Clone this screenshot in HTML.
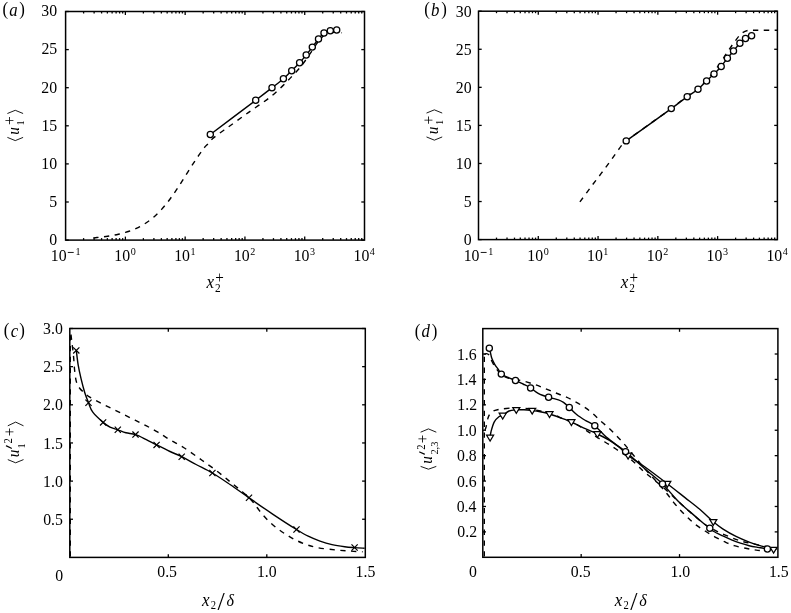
<!DOCTYPE html>
<html><head><meta charset="utf-8"><style>
html,body{margin:0;padding:0;background:#fff;overflow:hidden;}
svg{display:block;font-family:"Liberation Serif",serif;}
svg text{stroke:none;fill:#000;}
svg{will-change:transform;}
</style></head><body>
<svg width="791" height="613" viewBox="0 0 791 613" stroke="#000" stroke-linecap="butt">
<line x1="83.60" y1="240.10" x2="83.60" y2="238.10" stroke-width="1.3" />
<line x1="83.60" y1="11.50" x2="83.60" y2="13.50" stroke-width="1.3" />
<line x1="94.12" y1="240.10" x2="94.12" y2="238.10" stroke-width="1.3" />
<line x1="94.12" y1="11.50" x2="94.12" y2="13.50" stroke-width="1.3" />
<line x1="101.59" y1="240.10" x2="101.59" y2="238.10" stroke-width="1.3" />
<line x1="101.59" y1="11.50" x2="101.59" y2="13.50" stroke-width="1.3" />
<line x1="107.38" y1="240.10" x2="107.38" y2="238.10" stroke-width="1.3" />
<line x1="107.38" y1="11.50" x2="107.38" y2="13.50" stroke-width="1.3" />
<line x1="112.12" y1="240.10" x2="112.12" y2="238.10" stroke-width="1.3" />
<line x1="112.12" y1="11.50" x2="112.12" y2="13.50" stroke-width="1.3" />
<line x1="116.12" y1="240.10" x2="116.12" y2="238.10" stroke-width="1.3" />
<line x1="116.12" y1="11.50" x2="116.12" y2="13.50" stroke-width="1.3" />
<line x1="119.59" y1="240.10" x2="119.59" y2="238.10" stroke-width="1.3" />
<line x1="119.59" y1="11.50" x2="119.59" y2="13.50" stroke-width="1.3" />
<line x1="122.64" y1="240.10" x2="122.64" y2="238.10" stroke-width="1.3" />
<line x1="122.64" y1="11.50" x2="122.64" y2="13.50" stroke-width="1.3" />
<line x1="125.38" y1="240.10" x2="125.38" y2="236.60" stroke-width="1.3" />
<line x1="125.38" y1="11.50" x2="125.38" y2="15.00" stroke-width="1.3" />
<line x1="143.38" y1="240.10" x2="143.38" y2="238.10" stroke-width="1.3" />
<line x1="143.38" y1="11.50" x2="143.38" y2="13.50" stroke-width="1.3" />
<line x1="153.90" y1="240.10" x2="153.90" y2="238.10" stroke-width="1.3" />
<line x1="153.90" y1="11.50" x2="153.90" y2="13.50" stroke-width="1.3" />
<line x1="161.37" y1="240.10" x2="161.37" y2="238.10" stroke-width="1.3" />
<line x1="161.37" y1="11.50" x2="161.37" y2="13.50" stroke-width="1.3" />
<line x1="167.16" y1="240.10" x2="167.16" y2="238.10" stroke-width="1.3" />
<line x1="167.16" y1="11.50" x2="167.16" y2="13.50" stroke-width="1.3" />
<line x1="171.90" y1="240.10" x2="171.90" y2="238.10" stroke-width="1.3" />
<line x1="171.90" y1="11.50" x2="171.90" y2="13.50" stroke-width="1.3" />
<line x1="175.90" y1="240.10" x2="175.90" y2="238.10" stroke-width="1.3" />
<line x1="175.90" y1="11.50" x2="175.90" y2="13.50" stroke-width="1.3" />
<line x1="179.37" y1="240.10" x2="179.37" y2="238.10" stroke-width="1.3" />
<line x1="179.37" y1="11.50" x2="179.37" y2="13.50" stroke-width="1.3" />
<line x1="182.42" y1="240.10" x2="182.42" y2="238.10" stroke-width="1.3" />
<line x1="182.42" y1="11.50" x2="182.42" y2="13.50" stroke-width="1.3" />
<line x1="185.16" y1="240.10" x2="185.16" y2="236.60" stroke-width="1.3" />
<line x1="185.16" y1="11.50" x2="185.16" y2="15.00" stroke-width="1.3" />
<line x1="203.16" y1="240.10" x2="203.16" y2="238.10" stroke-width="1.3" />
<line x1="203.16" y1="11.50" x2="203.16" y2="13.50" stroke-width="1.3" />
<line x1="213.68" y1="240.10" x2="213.68" y2="238.10" stroke-width="1.3" />
<line x1="213.68" y1="11.50" x2="213.68" y2="13.50" stroke-width="1.3" />
<line x1="221.15" y1="240.10" x2="221.15" y2="238.10" stroke-width="1.3" />
<line x1="221.15" y1="11.50" x2="221.15" y2="13.50" stroke-width="1.3" />
<line x1="226.94" y1="240.10" x2="226.94" y2="238.10" stroke-width="1.3" />
<line x1="226.94" y1="11.50" x2="226.94" y2="13.50" stroke-width="1.3" />
<line x1="231.68" y1="240.10" x2="231.68" y2="238.10" stroke-width="1.3" />
<line x1="231.68" y1="11.50" x2="231.68" y2="13.50" stroke-width="1.3" />
<line x1="235.68" y1="240.10" x2="235.68" y2="238.10" stroke-width="1.3" />
<line x1="235.68" y1="11.50" x2="235.68" y2="13.50" stroke-width="1.3" />
<line x1="239.15" y1="240.10" x2="239.15" y2="238.10" stroke-width="1.3" />
<line x1="239.15" y1="11.50" x2="239.15" y2="13.50" stroke-width="1.3" />
<line x1="242.20" y1="240.10" x2="242.20" y2="238.10" stroke-width="1.3" />
<line x1="242.20" y1="11.50" x2="242.20" y2="13.50" stroke-width="1.3" />
<line x1="244.94" y1="240.10" x2="244.94" y2="236.60" stroke-width="1.3" />
<line x1="244.94" y1="11.50" x2="244.94" y2="15.00" stroke-width="1.3" />
<line x1="262.94" y1="240.10" x2="262.94" y2="238.10" stroke-width="1.3" />
<line x1="262.94" y1="11.50" x2="262.94" y2="13.50" stroke-width="1.3" />
<line x1="273.46" y1="240.10" x2="273.46" y2="238.10" stroke-width="1.3" />
<line x1="273.46" y1="11.50" x2="273.46" y2="13.50" stroke-width="1.3" />
<line x1="280.93" y1="240.10" x2="280.93" y2="238.10" stroke-width="1.3" />
<line x1="280.93" y1="11.50" x2="280.93" y2="13.50" stroke-width="1.3" />
<line x1="286.72" y1="240.10" x2="286.72" y2="238.10" stroke-width="1.3" />
<line x1="286.72" y1="11.50" x2="286.72" y2="13.50" stroke-width="1.3" />
<line x1="291.46" y1="240.10" x2="291.46" y2="238.10" stroke-width="1.3" />
<line x1="291.46" y1="11.50" x2="291.46" y2="13.50" stroke-width="1.3" />
<line x1="295.46" y1="240.10" x2="295.46" y2="238.10" stroke-width="1.3" />
<line x1="295.46" y1="11.50" x2="295.46" y2="13.50" stroke-width="1.3" />
<line x1="298.93" y1="240.10" x2="298.93" y2="238.10" stroke-width="1.3" />
<line x1="298.93" y1="11.50" x2="298.93" y2="13.50" stroke-width="1.3" />
<line x1="301.98" y1="240.10" x2="301.98" y2="238.10" stroke-width="1.3" />
<line x1="301.98" y1="11.50" x2="301.98" y2="13.50" stroke-width="1.3" />
<line x1="304.72" y1="240.10" x2="304.72" y2="236.60" stroke-width="1.3" />
<line x1="304.72" y1="11.50" x2="304.72" y2="15.00" stroke-width="1.3" />
<line x1="322.72" y1="240.10" x2="322.72" y2="238.10" stroke-width="1.3" />
<line x1="322.72" y1="11.50" x2="322.72" y2="13.50" stroke-width="1.3" />
<line x1="333.24" y1="240.10" x2="333.24" y2="238.10" stroke-width="1.3" />
<line x1="333.24" y1="11.50" x2="333.24" y2="13.50" stroke-width="1.3" />
<line x1="340.71" y1="240.10" x2="340.71" y2="238.10" stroke-width="1.3" />
<line x1="340.71" y1="11.50" x2="340.71" y2="13.50" stroke-width="1.3" />
<line x1="346.50" y1="240.10" x2="346.50" y2="238.10" stroke-width="1.3" />
<line x1="346.50" y1="11.50" x2="346.50" y2="13.50" stroke-width="1.3" />
<line x1="351.24" y1="240.10" x2="351.24" y2="238.10" stroke-width="1.3" />
<line x1="351.24" y1="11.50" x2="351.24" y2="13.50" stroke-width="1.3" />
<line x1="355.24" y1="240.10" x2="355.24" y2="238.10" stroke-width="1.3" />
<line x1="355.24" y1="11.50" x2="355.24" y2="13.50" stroke-width="1.3" />
<line x1="358.71" y1="240.10" x2="358.71" y2="238.10" stroke-width="1.3" />
<line x1="358.71" y1="11.50" x2="358.71" y2="13.50" stroke-width="1.3" />
<line x1="361.76" y1="240.10" x2="361.76" y2="238.10" stroke-width="1.3" />
<line x1="361.76" y1="11.50" x2="361.76" y2="13.50" stroke-width="1.3" />
<line x1="65.60" y1="240.10" x2="68.80" y2="240.10" stroke-width="1.3" />
<line x1="364.50" y1="240.10" x2="361.30" y2="240.10" stroke-width="1.3" />
<line x1="65.60" y1="202.00" x2="68.80" y2="202.00" stroke-width="1.3" />
<line x1="364.50" y1="202.00" x2="361.30" y2="202.00" stroke-width="1.3" />
<line x1="65.60" y1="163.90" x2="68.80" y2="163.90" stroke-width="1.3" />
<line x1="364.50" y1="163.90" x2="361.30" y2="163.90" stroke-width="1.3" />
<line x1="65.60" y1="125.80" x2="68.80" y2="125.80" stroke-width="1.3" />
<line x1="364.50" y1="125.80" x2="361.30" y2="125.80" stroke-width="1.3" />
<line x1="65.60" y1="87.70" x2="68.80" y2="87.70" stroke-width="1.3" />
<line x1="364.50" y1="87.70" x2="361.30" y2="87.70" stroke-width="1.3" />
<line x1="65.60" y1="49.60" x2="68.80" y2="49.60" stroke-width="1.3" />
<line x1="364.50" y1="49.60" x2="361.30" y2="49.60" stroke-width="1.3" />
<line x1="65.60" y1="11.50" x2="68.80" y2="11.50" stroke-width="1.3" />
<line x1="364.50" y1="11.50" x2="361.30" y2="11.50" stroke-width="1.3" />
<rect x="65.60" y="11.50" width="298.90" height="228.60" fill="none" stroke-width="1.5"/>
<text transform="translate(49.28,245.38) scale(0.92,1)" font-size="17.2">0</text>
<text transform="translate(49.32,207.05) scale(0.92,1)" font-size="17.2">5</text>
<text transform="translate(41.37,169.03) scale(0.92,1)" font-size="17.2">10</text>
<text transform="translate(41.41,130.79) scale(0.92,1)" font-size="17.2">15</text>
<text transform="translate(41.37,92.63) scale(0.92,1)" font-size="17.2">20</text>
<text transform="translate(41.41,54.26) scale(0.92,1)" font-size="17.2">25</text>
<text transform="translate(41.37,15.63) scale(0.92,1)" font-size="17.2">30</text>
<text transform="translate(50.74,261.03) scale(0.92,1)" font-size="17.2">10</text>
<rect x="67.80" y="251.95" width="5.9" height="0.9" stroke="none" fill="#000"/>
<text transform="translate(75.38,255.13) scale(0.92,1)" font-size="11.0">1</text>
<text transform="translate(114.37,261.03) scale(0.92,1)" font-size="17.2">10</text>
<text transform="translate(130.75,255.00) scale(0.92,1)" font-size="11.0">0</text>
<text transform="translate(174.15,261.03) scale(0.92,1)" font-size="17.2">10</text>
<text transform="translate(190.39,255.03) scale(0.92,1)" font-size="11.0">1</text>
<text transform="translate(233.93,261.03) scale(0.92,1)" font-size="17.2">10</text>
<text transform="translate(250.37,255.04) scale(0.92,1)" font-size="11.0">2</text>
<text transform="translate(293.71,261.03) scale(0.92,1)" font-size="17.2">10</text>
<text transform="translate(310.05,254.99) scale(0.92,1)" font-size="11.0">3</text>
<text transform="translate(353.49,261.03) scale(0.92,1)" font-size="17.2">10</text>
<text transform="translate(369.84,255.02) scale(0.92,1)" font-size="11.0">4</text>
<line x1="496.50" y1="239.60" x2="496.50" y2="237.60" stroke-width="1.3" />
<line x1="496.50" y1="11.20" x2="496.50" y2="13.20" stroke-width="1.3" />
<line x1="507.02" y1="239.60" x2="507.02" y2="237.60" stroke-width="1.3" />
<line x1="507.02" y1="11.20" x2="507.02" y2="13.20" stroke-width="1.3" />
<line x1="514.49" y1="239.60" x2="514.49" y2="237.60" stroke-width="1.3" />
<line x1="514.49" y1="11.20" x2="514.49" y2="13.20" stroke-width="1.3" />
<line x1="520.28" y1="239.60" x2="520.28" y2="237.60" stroke-width="1.3" />
<line x1="520.28" y1="11.20" x2="520.28" y2="13.20" stroke-width="1.3" />
<line x1="525.02" y1="239.60" x2="525.02" y2="237.60" stroke-width="1.3" />
<line x1="525.02" y1="11.20" x2="525.02" y2="13.20" stroke-width="1.3" />
<line x1="529.02" y1="239.60" x2="529.02" y2="237.60" stroke-width="1.3" />
<line x1="529.02" y1="11.20" x2="529.02" y2="13.20" stroke-width="1.3" />
<line x1="532.49" y1="239.60" x2="532.49" y2="237.60" stroke-width="1.3" />
<line x1="532.49" y1="11.20" x2="532.49" y2="13.20" stroke-width="1.3" />
<line x1="535.54" y1="239.60" x2="535.54" y2="237.60" stroke-width="1.3" />
<line x1="535.54" y1="11.20" x2="535.54" y2="13.20" stroke-width="1.3" />
<line x1="538.28" y1="239.60" x2="538.28" y2="236.10" stroke-width="1.3" />
<line x1="538.28" y1="11.20" x2="538.28" y2="14.70" stroke-width="1.3" />
<line x1="556.28" y1="239.60" x2="556.28" y2="237.60" stroke-width="1.3" />
<line x1="556.28" y1="11.20" x2="556.28" y2="13.20" stroke-width="1.3" />
<line x1="566.80" y1="239.60" x2="566.80" y2="237.60" stroke-width="1.3" />
<line x1="566.80" y1="11.20" x2="566.80" y2="13.20" stroke-width="1.3" />
<line x1="574.27" y1="239.60" x2="574.27" y2="237.60" stroke-width="1.3" />
<line x1="574.27" y1="11.20" x2="574.27" y2="13.20" stroke-width="1.3" />
<line x1="580.06" y1="239.60" x2="580.06" y2="237.60" stroke-width="1.3" />
<line x1="580.06" y1="11.20" x2="580.06" y2="13.20" stroke-width="1.3" />
<line x1="584.80" y1="239.60" x2="584.80" y2="237.60" stroke-width="1.3" />
<line x1="584.80" y1="11.20" x2="584.80" y2="13.20" stroke-width="1.3" />
<line x1="588.80" y1="239.60" x2="588.80" y2="237.60" stroke-width="1.3" />
<line x1="588.80" y1="11.20" x2="588.80" y2="13.20" stroke-width="1.3" />
<line x1="592.27" y1="239.60" x2="592.27" y2="237.60" stroke-width="1.3" />
<line x1="592.27" y1="11.20" x2="592.27" y2="13.20" stroke-width="1.3" />
<line x1="595.32" y1="239.60" x2="595.32" y2="237.60" stroke-width="1.3" />
<line x1="595.32" y1="11.20" x2="595.32" y2="13.20" stroke-width="1.3" />
<line x1="598.06" y1="239.60" x2="598.06" y2="236.10" stroke-width="1.3" />
<line x1="598.06" y1="11.20" x2="598.06" y2="14.70" stroke-width="1.3" />
<line x1="616.06" y1="239.60" x2="616.06" y2="237.60" stroke-width="1.3" />
<line x1="616.06" y1="11.20" x2="616.06" y2="13.20" stroke-width="1.3" />
<line x1="626.58" y1="239.60" x2="626.58" y2="237.60" stroke-width="1.3" />
<line x1="626.58" y1="11.20" x2="626.58" y2="13.20" stroke-width="1.3" />
<line x1="634.05" y1="239.60" x2="634.05" y2="237.60" stroke-width="1.3" />
<line x1="634.05" y1="11.20" x2="634.05" y2="13.20" stroke-width="1.3" />
<line x1="639.84" y1="239.60" x2="639.84" y2="237.60" stroke-width="1.3" />
<line x1="639.84" y1="11.20" x2="639.84" y2="13.20" stroke-width="1.3" />
<line x1="644.58" y1="239.60" x2="644.58" y2="237.60" stroke-width="1.3" />
<line x1="644.58" y1="11.20" x2="644.58" y2="13.20" stroke-width="1.3" />
<line x1="648.58" y1="239.60" x2="648.58" y2="237.60" stroke-width="1.3" />
<line x1="648.58" y1="11.20" x2="648.58" y2="13.20" stroke-width="1.3" />
<line x1="652.05" y1="239.60" x2="652.05" y2="237.60" stroke-width="1.3" />
<line x1="652.05" y1="11.20" x2="652.05" y2="13.20" stroke-width="1.3" />
<line x1="655.10" y1="239.60" x2="655.10" y2="237.60" stroke-width="1.3" />
<line x1="655.10" y1="11.20" x2="655.10" y2="13.20" stroke-width="1.3" />
<line x1="657.84" y1="239.60" x2="657.84" y2="236.10" stroke-width="1.3" />
<line x1="657.84" y1="11.20" x2="657.84" y2="14.70" stroke-width="1.3" />
<line x1="675.84" y1="239.60" x2="675.84" y2="237.60" stroke-width="1.3" />
<line x1="675.84" y1="11.20" x2="675.84" y2="13.20" stroke-width="1.3" />
<line x1="686.36" y1="239.60" x2="686.36" y2="237.60" stroke-width="1.3" />
<line x1="686.36" y1="11.20" x2="686.36" y2="13.20" stroke-width="1.3" />
<line x1="693.83" y1="239.60" x2="693.83" y2="237.60" stroke-width="1.3" />
<line x1="693.83" y1="11.20" x2="693.83" y2="13.20" stroke-width="1.3" />
<line x1="699.62" y1="239.60" x2="699.62" y2="237.60" stroke-width="1.3" />
<line x1="699.62" y1="11.20" x2="699.62" y2="13.20" stroke-width="1.3" />
<line x1="704.36" y1="239.60" x2="704.36" y2="237.60" stroke-width="1.3" />
<line x1="704.36" y1="11.20" x2="704.36" y2="13.20" stroke-width="1.3" />
<line x1="708.36" y1="239.60" x2="708.36" y2="237.60" stroke-width="1.3" />
<line x1="708.36" y1="11.20" x2="708.36" y2="13.20" stroke-width="1.3" />
<line x1="711.83" y1="239.60" x2="711.83" y2="237.60" stroke-width="1.3" />
<line x1="711.83" y1="11.20" x2="711.83" y2="13.20" stroke-width="1.3" />
<line x1="714.88" y1="239.60" x2="714.88" y2="237.60" stroke-width="1.3" />
<line x1="714.88" y1="11.20" x2="714.88" y2="13.20" stroke-width="1.3" />
<line x1="717.62" y1="239.60" x2="717.62" y2="236.10" stroke-width="1.3" />
<line x1="717.62" y1="11.20" x2="717.62" y2="14.70" stroke-width="1.3" />
<line x1="735.62" y1="239.60" x2="735.62" y2="237.60" stroke-width="1.3" />
<line x1="735.62" y1="11.20" x2="735.62" y2="13.20" stroke-width="1.3" />
<line x1="746.14" y1="239.60" x2="746.14" y2="237.60" stroke-width="1.3" />
<line x1="746.14" y1="11.20" x2="746.14" y2="13.20" stroke-width="1.3" />
<line x1="753.61" y1="239.60" x2="753.61" y2="237.60" stroke-width="1.3" />
<line x1="753.61" y1="11.20" x2="753.61" y2="13.20" stroke-width="1.3" />
<line x1="759.40" y1="239.60" x2="759.40" y2="237.60" stroke-width="1.3" />
<line x1="759.40" y1="11.20" x2="759.40" y2="13.20" stroke-width="1.3" />
<line x1="764.14" y1="239.60" x2="764.14" y2="237.60" stroke-width="1.3" />
<line x1="764.14" y1="11.20" x2="764.14" y2="13.20" stroke-width="1.3" />
<line x1="768.14" y1="239.60" x2="768.14" y2="237.60" stroke-width="1.3" />
<line x1="768.14" y1="11.20" x2="768.14" y2="13.20" stroke-width="1.3" />
<line x1="771.61" y1="239.60" x2="771.61" y2="237.60" stroke-width="1.3" />
<line x1="771.61" y1="11.20" x2="771.61" y2="13.20" stroke-width="1.3" />
<line x1="774.66" y1="239.60" x2="774.66" y2="237.60" stroke-width="1.3" />
<line x1="774.66" y1="11.20" x2="774.66" y2="13.20" stroke-width="1.3" />
<line x1="478.50" y1="239.60" x2="481.70" y2="239.60" stroke-width="1.3" />
<line x1="777.40" y1="239.60" x2="774.20" y2="239.60" stroke-width="1.3" />
<line x1="478.50" y1="201.53" x2="481.70" y2="201.53" stroke-width="1.3" />
<line x1="777.40" y1="201.53" x2="774.20" y2="201.53" stroke-width="1.3" />
<line x1="478.50" y1="163.47" x2="481.70" y2="163.47" stroke-width="1.3" />
<line x1="777.40" y1="163.47" x2="774.20" y2="163.47" stroke-width="1.3" />
<line x1="478.50" y1="125.40" x2="481.70" y2="125.40" stroke-width="1.3" />
<line x1="777.40" y1="125.40" x2="774.20" y2="125.40" stroke-width="1.3" />
<line x1="478.50" y1="87.33" x2="481.70" y2="87.33" stroke-width="1.3" />
<line x1="777.40" y1="87.33" x2="774.20" y2="87.33" stroke-width="1.3" />
<line x1="478.50" y1="49.27" x2="481.70" y2="49.27" stroke-width="1.3" />
<line x1="777.40" y1="49.27" x2="774.20" y2="49.27" stroke-width="1.3" />
<line x1="478.50" y1="11.20" x2="481.70" y2="11.20" stroke-width="1.3" />
<line x1="777.40" y1="11.20" x2="774.20" y2="11.20" stroke-width="1.3" />
<rect x="478.50" y="11.20" width="298.90" height="228.40" fill="none" stroke-width="1.5"/>
<text transform="translate(463.68,244.93) scale(0.92,1)" font-size="17.2">0</text>
<text transform="translate(463.72,206.78) scale(0.92,1)" font-size="17.2">5</text>
<text transform="translate(455.77,168.80) scale(0.92,1)" font-size="17.2">10</text>
<text transform="translate(455.81,130.69) scale(0.92,1)" font-size="17.2">15</text>
<text transform="translate(455.77,92.67) scale(0.92,1)" font-size="17.2">20</text>
<text transform="translate(455.81,54.58) scale(0.92,1)" font-size="17.2">25</text>
<text transform="translate(455.77,16.53) scale(0.92,1)" font-size="17.2">30</text>
<text transform="translate(463.64,261.03) scale(0.92,1)" font-size="17.2">10</text>
<rect x="480.70" y="251.95" width="5.9" height="0.9" stroke="none" fill="#000"/>
<text transform="translate(488.28,255.13) scale(0.92,1)" font-size="11.0">1</text>
<text transform="translate(527.27,261.03) scale(0.92,1)" font-size="17.2">10</text>
<text transform="translate(543.65,255.00) scale(0.92,1)" font-size="11.0">0</text>
<text transform="translate(587.05,261.03) scale(0.92,1)" font-size="17.2">10</text>
<text transform="translate(603.29,255.03) scale(0.92,1)" font-size="11.0">1</text>
<text transform="translate(646.83,261.03) scale(0.92,1)" font-size="17.2">10</text>
<text transform="translate(663.27,255.04) scale(0.92,1)" font-size="11.0">2</text>
<text transform="translate(706.61,261.03) scale(0.92,1)" font-size="17.2">10</text>
<text transform="translate(722.95,254.99) scale(0.92,1)" font-size="11.0">3</text>
<text transform="translate(766.39,261.03) scale(0.92,1)" font-size="17.2">10</text>
<text transform="translate(782.74,255.02) scale(0.92,1)" font-size="11.0">4</text>
<line x1="168.30" y1="557.40" x2="168.30" y2="554.20" stroke-width="1.3" />
<line x1="168.30" y1="328.50" x2="168.30" y2="331.70" stroke-width="1.3" />
<line x1="266.80" y1="557.40" x2="266.80" y2="554.20" stroke-width="1.3" />
<line x1="266.80" y1="328.50" x2="266.80" y2="331.70" stroke-width="1.3" />
<line x1="69.80" y1="519.25" x2="73.00" y2="519.25" stroke-width="1.3" />
<line x1="365.30" y1="519.25" x2="362.10" y2="519.25" stroke-width="1.3" />
<text transform="translate(43.15,524.84) scale(0.92,1)" font-size="17.2">0.5</text>
<line x1="69.80" y1="481.10" x2="73.00" y2="481.10" stroke-width="1.3" />
<line x1="365.30" y1="481.10" x2="362.10" y2="481.10" stroke-width="1.3" />
<text transform="translate(43.11,486.69) scale(0.92,1)" font-size="17.2">1.0</text>
<line x1="69.80" y1="442.95" x2="73.00" y2="442.95" stroke-width="1.3" />
<line x1="365.30" y1="442.95" x2="362.10" y2="442.95" stroke-width="1.3" />
<text transform="translate(43.15,448.50) scale(0.92,1)" font-size="17.2">1.5</text>
<line x1="69.80" y1="404.80" x2="73.00" y2="404.80" stroke-width="1.3" />
<line x1="365.30" y1="404.80" x2="362.10" y2="404.80" stroke-width="1.3" />
<text transform="translate(43.11,410.39) scale(0.92,1)" font-size="17.2">2.0</text>
<line x1="69.80" y1="366.65" x2="73.00" y2="366.65" stroke-width="1.3" />
<line x1="365.30" y1="366.65" x2="362.10" y2="366.65" stroke-width="1.3" />
<text transform="translate(43.15,372.22) scale(0.92,1)" font-size="17.2">2.5</text>
<line x1="69.80" y1="328.50" x2="73.00" y2="328.50" stroke-width="1.3" />
<line x1="365.30" y1="328.50" x2="362.10" y2="328.50" stroke-width="1.3" />
<text transform="translate(43.11,334.09) scale(0.92,1)" font-size="17.2">3.0</text>
<rect x="69.80" y="328.50" width="295.50" height="228.90" fill="none" stroke-width="1.5"/>
<text transform="translate(157.23,577.39) scale(0.92,1)" font-size="17.2">0.5</text>
<text transform="translate(256.91,577.39) scale(0.92,1)" font-size="17.2">1.0</text>
<text transform="translate(355.53,577.35) scale(0.92,1)" font-size="17.2">1.5</text>
<text transform="translate(55.14,581.33) scale(0.92,1)" font-size="17.2">0</text>
<line x1="581.17" y1="557.30" x2="581.17" y2="554.10" stroke-width="1.3" />
<line x1="581.17" y1="328.60" x2="581.17" y2="331.80" stroke-width="1.3" />
<line x1="679.53" y1="557.30" x2="679.53" y2="554.10" stroke-width="1.3" />
<line x1="679.53" y1="328.60" x2="679.53" y2="331.80" stroke-width="1.3" />
<line x1="482.80" y1="531.89" x2="486.00" y2="531.89" stroke-width="1.3" />
<line x1="777.90" y1="531.89" x2="774.70" y2="531.89" stroke-width="1.3" />
<text transform="translate(457.29,537.48) scale(0.92,1)" font-size="17.2">0.2</text>
<line x1="482.80" y1="506.48" x2="486.00" y2="506.48" stroke-width="1.3" />
<line x1="777.90" y1="506.48" x2="774.70" y2="506.48" stroke-width="1.3" />
<text transform="translate(456.66,512.07) scale(0.92,1)" font-size="17.2">0.4</text>
<line x1="482.80" y1="481.07" x2="486.00" y2="481.07" stroke-width="1.3" />
<line x1="777.90" y1="481.07" x2="774.70" y2="481.07" stroke-width="1.3" />
<text transform="translate(456.89,486.66) scale(0.92,1)" font-size="17.2">0.6</text>
<line x1="482.80" y1="455.66" x2="486.00" y2="455.66" stroke-width="1.3" />
<line x1="777.90" y1="455.66" x2="774.70" y2="455.66" stroke-width="1.3" />
<text transform="translate(457.01,461.25) scale(0.92,1)" font-size="17.2">0.8</text>
<line x1="482.80" y1="430.24" x2="486.00" y2="430.24" stroke-width="1.3" />
<line x1="777.90" y1="430.24" x2="774.70" y2="430.24" stroke-width="1.3" />
<text transform="translate(457.01,435.83) scale(0.92,1)" font-size="17.2">1.0</text>
<line x1="482.80" y1="404.83" x2="486.00" y2="404.83" stroke-width="1.3" />
<line x1="777.90" y1="404.83" x2="774.70" y2="404.83" stroke-width="1.3" />
<text transform="translate(457.29,410.40) scale(0.92,1)" font-size="17.2">1.2</text>
<line x1="482.80" y1="379.42" x2="486.00" y2="379.42" stroke-width="1.3" />
<line x1="777.90" y1="379.42" x2="774.70" y2="379.42" stroke-width="1.3" />
<text transform="translate(456.66,384.97) scale(0.92,1)" font-size="17.2">1.4</text>
<line x1="482.80" y1="354.01" x2="486.00" y2="354.01" stroke-width="1.3" />
<line x1="777.90" y1="354.01" x2="774.70" y2="354.01" stroke-width="1.3" />
<text transform="translate(456.89,359.58) scale(0.92,1)" font-size="17.2">1.6</text>
<rect x="482.80" y="328.60" width="295.10" height="228.70" fill="none" stroke-width="1.5"/>
<text transform="translate(570.80,577.39) scale(0.92,1)" font-size="17.2">0.5</text>
<text transform="translate(670.45,577.39) scale(0.92,1)" font-size="17.2">1.0</text>
<text transform="translate(768.93,577.35) scale(0.92,1)" font-size="17.2">1.5</text>
<text transform="translate(468.89,577.33) scale(0.92,1)" font-size="17.2">0</text>
<text transform="translate(2.52,15.21) scale(0.92,1)" font-size="18.3">(</text>
<text transform="translate(9.25,15.51) scale(0.92,1)" font-size="18.3" font-style="italic">a</text>
<text transform="translate(19.34,15.21) scale(0.92,1)" font-size="18.3">)</text>
<text transform="translate(424.37,15.21) scale(0.92,1)" font-size="18.3">(</text>
<text transform="translate(431.03,15.67) scale(0.92,1)" font-size="18.3" font-style="italic">b</text>
<text transform="translate(441.24,15.21) scale(0.92,1)" font-size="18.3">)</text>
<text transform="translate(3.77,336.41) scale(0.92,1)" font-size="18.3">(</text>
<text transform="translate(10.71,336.91) scale(0.92,1)" font-size="18.3" font-style="italic">c</text>
<text transform="translate(19.24,336.41) scale(0.92,1)" font-size="18.3">)</text>
<text transform="translate(414.77,336.56) scale(0.92,1)" font-size="18.3">(</text>
<text transform="translate(421.52,336.77) scale(0.92,1)" font-size="18.3" font-style="italic">d</text>
<text transform="translate(431.84,336.56) scale(0.92,1)" font-size="18.3">)</text>
<text transform="translate(206.58,287.56) scale(0.92,1)" font-size="18.5" font-style="italic">x</text>
<text transform="translate(215.04,292.27) scale(0.92,1)" font-size="12.3">2</text>
<text transform="translate(215.36,282.84) scale(0.92,1)" font-size="16.5">+</text>
<text transform="translate(620.78,287.56) scale(0.92,1)" font-size="18.5" font-style="italic">x</text>
<text transform="translate(629.24,292.27) scale(0.92,1)" font-size="12.3">2</text>
<text transform="translate(629.56,282.84) scale(0.92,1)" font-size="16.5">+</text>
<text transform="translate(201.98,605.86) scale(0.92,1)" font-size="18.5" font-style="italic">x</text>
<text transform="translate(210.77,609.21) scale(0.92,1)" font-size="11.5">2</text>
<text transform="translate(217.39,610.05)" font-size="26">/</text>
<text transform="translate(226.56,605.84) scale(0.92,1)" font-size="17.5" font-style="italic">δ</text>
<text transform="translate(614.78,605.86) scale(0.92,1)" font-size="18.5" font-style="italic">x</text>
<text transform="translate(623.57,609.21) scale(0.92,1)" font-size="11.5">2</text>
<text transform="translate(630.19,610.05)" font-size="26">/</text>
<text transform="translate(639.36,605.84) scale(0.92,1)" font-size="17.5" font-style="italic">δ</text>
<path d="M7.40,137.40 L15.25,140.60 L23.10,137.40" fill="none" stroke-width="0.9" stroke-linejoin="miter"/>
<text transform="translate(18.89,134.71) rotate(-90) scale(0.92,1)" font-size="16.5" font-style="italic">u</text>
<text transform="translate(24.01,125.57) rotate(-90) scale(0.92,1)" font-size="11.4">1</text>
<text transform="translate(14.80,124.92) rotate(-90) scale(0.92,1)" font-size="17">+</text>
<path d="M7.40,113.50 L15.25,110.30 L23.10,113.50" fill="none" stroke-width="0.9" stroke-linejoin="miter"/>
<path d="M426.50,136.95 L434.35,140.15 L442.20,136.95" fill="none" stroke-width="0.9" stroke-linejoin="miter"/>
<text transform="translate(437.99,134.26) rotate(-90) scale(0.92,1)" font-size="16.5" font-style="italic">u</text>
<text transform="translate(443.11,125.12) rotate(-90) scale(0.92,1)" font-size="11.4">1</text>
<text transform="translate(433.90,124.47) rotate(-90) scale(0.92,1)" font-size="17">+</text>
<path d="M426.50,113.05 L434.35,109.85 L442.20,113.05" fill="none" stroke-width="0.9" stroke-linejoin="miter"/>
<path d="M7.80,459.60 L15.65,462.80 L23.50,459.60" fill="none" stroke-width="0.9" stroke-linejoin="miter"/>
<text transform="translate(19.14,457.36) rotate(-90) scale(0.92,1)" font-size="16.5" font-style="italic">u</text>
<path d="M6.4,445.9 L11.4,448.2" stroke-width="1.2" stroke-linecap="round"/>
<text transform="translate(25.11,448.47) rotate(-90) scale(0.92,1)" font-size="11.4">1</text>
<text transform="translate(12.11,443.58) rotate(-90) scale(0.92,1)" font-size="11.5">2</text>
<text transform="translate(15.04,436.14) rotate(-90) scale(0.92,1)" font-size="16.5">+</text>
<path d="M7.80,425.80 L15.65,422.10 L23.50,425.80" fill="none" stroke-width="0.9" stroke-linejoin="miter"/>
<path d="M420.60,466.40 L428.45,469.20 L436.30,466.40" fill="none" stroke-width="0.9" stroke-linejoin="miter"/>
<text transform="translate(432.14,463.76) rotate(-90) scale(0.92,1)" font-size="16.5" font-style="italic">u</text>
<path d="M419.6,452.0 L424.4,454.1" stroke-width="1.2" stroke-linecap="round"/>
<text transform="translate(438.29,454.62) rotate(-90) scale(0.92,1)" font-size="11.4">2,3</text>
<text transform="translate(425.31,449.78) rotate(-90) scale(0.92,1)" font-size="11.5">2</text>
<text transform="translate(428.04,443.14) rotate(-90) scale(0.92,1)" font-size="16.5">+</text>
<path d="M420.60,432.20 L428.45,428.90 L436.30,432.20" fill="none" stroke-width="0.9" stroke-linejoin="miter"/>
<path d="M93.24,237.89 C93.84,237.83 95.63,237.68 96.83,237.56 C98.02,237.44 99.22,237.32 100.42,237.18 C101.61,237.05 102.81,236.90 104.00,236.75 C105.20,236.59 106.39,236.43 107.59,236.25 C108.78,236.07 109.98,235.88 111.18,235.68 C112.37,235.47 113.57,235.25 114.76,235.02 C115.96,234.78 117.15,234.53 118.35,234.26 C119.55,233.98 120.74,233.70 121.94,233.38 C123.13,233.07 124.33,232.74 125.52,232.38 C126.72,232.02 127.91,231.64 129.11,231.22 C130.31,230.81 131.50,230.37 132.70,229.89 C133.89,229.41 135.09,228.91 136.28,228.36 C137.48,227.81 138.67,227.23 139.87,226.60 C141.07,225.97 142.26,225.31 143.46,224.59 C144.65,223.87 145.85,223.11 147.04,222.29 C148.24,221.47 149.44,220.60 150.63,219.67 C151.83,218.73 153.02,217.75 154.22,216.69 C155.41,215.64 156.61,214.53 157.80,213.35 C159.00,212.17 160.20,210.93 161.39,209.61 C162.59,208.30 163.78,206.92 164.98,205.48 C166.17,204.04 167.37,202.52 168.56,200.96 C169.76,199.39 170.96,197.75 172.15,196.07 C173.35,194.39 174.54,192.65 175.74,190.88 C176.93,189.10 178.13,187.27 179.33,185.43 C180.52,183.59 181.72,181.70 182.91,179.82 C184.11,177.94 185.30,176.02 186.50,174.13 C187.69,172.24 188.89,170.34 190.09,168.46 C191.28,166.59 192.48,164.72 193.67,162.90 C194.87,161.08 196.06,159.27 197.26,157.52 C198.45,155.76 199.65,154.04 200.85,152.37 C202.04,150.70 203.12,149.04 204.43,147.51 C205.74,145.98 207.14,144.85 208.70,143.20 C210.26,141.55 210.50,140.32 213.80,137.60 C217.10,134.88 223.37,130.63 228.50,126.90 C233.63,123.17 240.68,118.02 244.60,115.20 C248.52,112.38 249.30,111.87 252.00,110.00 C254.70,108.13 257.87,106.07 260.80,104.00 C263.73,101.93 266.75,99.87 269.60,97.60 C272.45,95.33 275.22,92.85 277.90,90.40 C280.58,87.95 283.17,85.45 285.70,82.90 C288.23,80.35 290.73,77.63 293.10,75.10 C295.47,72.57 297.78,70.23 299.90,67.70 C302.02,65.17 303.78,62.72 305.80,59.90 C307.82,57.08 309.97,53.78 312.00,50.80 C314.03,47.82 316.00,44.55 318.00,42.00 C320.00,39.45 322.00,37.07 324.00,35.50 C326.00,33.93 328.00,33.15 330.00,32.60 C332.00,32.05 334.00,32.17 336.00,32.20 C338.00,32.23 341.00,32.70 342.00,32.80" fill="none" stroke-width="1.4" stroke-dasharray="5.3 5.5" stroke-linejoin="round" />
<path d="M210.30,134.50 C217.87,128.80 245.42,108.08 255.70,100.30 C265.98,92.52 267.38,91.38 272.00,87.80 C276.62,84.22 280.12,81.65 283.40,78.80 C286.68,75.95 289.00,73.37 291.70,70.70 C294.40,68.03 297.18,65.43 299.60,62.80 C302.02,60.17 304.08,57.52 306.20,54.90 C308.32,52.28 310.25,49.75 312.30,47.10 C314.35,44.45 316.55,41.37 318.50,39.00 C320.45,36.63 322.03,34.28 324.00,32.90 C325.97,31.52 328.18,31.20 330.30,30.70 C332.42,30.20 335.63,30.03 336.70,29.90" fill="none" stroke-width="1.4" stroke-linejoin="round" />
<circle cx="210.30" cy="134.50" r="3.1" fill="#fff" stroke-width="1.25"/>
<circle cx="255.70" cy="100.30" r="3.1" fill="#fff" stroke-width="1.25"/>
<circle cx="272.00" cy="87.80" r="3.1" fill="#fff" stroke-width="1.25"/>
<circle cx="283.40" cy="78.80" r="3.1" fill="#fff" stroke-width="1.25"/>
<circle cx="291.70" cy="70.70" r="3.1" fill="#fff" stroke-width="1.25"/>
<circle cx="299.60" cy="62.80" r="3.1" fill="#fff" stroke-width="1.25"/>
<circle cx="306.20" cy="54.90" r="3.1" fill="#fff" stroke-width="1.25"/>
<circle cx="312.30" cy="47.10" r="3.1" fill="#fff" stroke-width="1.25"/>
<circle cx="318.50" cy="39.00" r="3.1" fill="#fff" stroke-width="1.25"/>
<circle cx="324.00" cy="32.90" r="3.1" fill="#fff" stroke-width="1.25"/>
<circle cx="330.30" cy="30.70" r="3.1" fill="#fff" stroke-width="1.25"/>
<circle cx="336.70" cy="29.90" r="3.1" fill="#fff" stroke-width="1.25"/>
<path d="M579.90,201.90 C581.67,199.50 586.92,192.28 590.50,187.50 C594.08,182.72 597.82,177.98 601.40,173.20 C604.98,168.42 608.42,163.73 612.00,158.80 C615.58,153.87 620.55,146.58 622.90,143.60 C625.25,140.62 621.58,144.20 626.10,140.90 C630.62,137.60 642.43,129.22 650.00,123.80 C657.57,118.38 665.33,113.00 671.50,108.40 C677.67,103.80 682.58,99.53 687.00,96.20 C691.42,92.87 694.83,91.02 698.00,88.40 C701.17,85.78 703.50,83.15 706.00,80.50 C708.50,77.85 710.67,75.33 713.00,72.50 C715.33,69.67 717.75,66.67 720.00,63.50 C722.25,60.33 724.45,56.60 726.50,53.50 C728.55,50.40 730.83,46.98 732.30,44.90 C733.77,42.82 734.27,42.38 735.30,41.00 C736.33,39.62 737.32,37.97 738.50,36.60 C739.68,35.23 740.88,33.82 742.40,32.80 C743.92,31.78 745.87,30.93 747.60,30.50 C749.33,30.07 747.83,30.25 752.80,30.20 C757.77,30.15 773.30,30.20 777.40,30.20" fill="none" stroke-width="1.4" stroke-dasharray="5.3 5.5" stroke-linejoin="round" />
<path d="M626.20,140.90 C633.72,135.52 661.13,115.97 671.30,108.60 C681.47,101.23 682.75,99.92 687.20,96.70 C691.65,93.48 694.77,91.93 698.00,89.30 C701.23,86.67 703.93,83.45 706.60,80.90 C709.27,78.35 711.57,76.40 714.00,74.00 C716.43,71.60 718.97,69.13 721.20,66.50 C723.43,63.87 725.35,60.80 727.40,58.20 C729.45,55.60 731.42,53.38 733.50,50.90 C735.58,48.42 737.90,45.38 739.90,43.30 C741.90,41.22 743.55,39.67 745.50,38.40 C747.45,37.13 750.58,36.15 751.60,35.70" fill="none" stroke-width="1.4" stroke-linejoin="round" />
<circle cx="626.20" cy="140.90" r="3.1" fill="#fff" stroke-width="1.25"/>
<circle cx="671.30" cy="108.60" r="3.1" fill="#fff" stroke-width="1.25"/>
<circle cx="687.20" cy="96.70" r="3.1" fill="#fff" stroke-width="1.25"/>
<circle cx="698.00" cy="89.30" r="3.1" fill="#fff" stroke-width="1.25"/>
<circle cx="706.60" cy="80.90" r="3.1" fill="#fff" stroke-width="1.25"/>
<circle cx="714.00" cy="74.00" r="3.1" fill="#fff" stroke-width="1.25"/>
<circle cx="721.20" cy="66.50" r="3.1" fill="#fff" stroke-width="1.25"/>
<circle cx="727.40" cy="58.20" r="3.1" fill="#fff" stroke-width="1.25"/>
<circle cx="733.50" cy="50.90" r="3.1" fill="#fff" stroke-width="1.25"/>
<circle cx="739.90" cy="43.30" r="3.1" fill="#fff" stroke-width="1.25"/>
<circle cx="745.50" cy="38.40" r="3.1" fill="#fff" stroke-width="1.25"/>
<circle cx="751.60" cy="35.70" r="3.1" fill="#fff" stroke-width="1.25"/>
<path d="M70.30,556.50 L70.30,334.50" fill="none" stroke-width="1.4" stroke-dasharray="5.3 5.5" stroke-linejoin="round" />
<path d="M71.00,334.50 C71.13,335.70 71.50,339.20 71.80,341.70 C72.10,344.20 72.47,346.57 72.80,349.50 C73.13,352.43 73.50,355.88 73.80,359.30 C74.10,362.72 74.18,366.32 74.60,370.00 C75.02,373.68 75.48,378.40 76.30,381.40 C77.12,384.40 78.22,386.15 79.50,388.00 C80.78,389.85 82.35,391.03 84.00,392.50 C85.65,393.97 86.60,395.03 89.40,396.80 C92.20,398.57 97.00,401.10 100.80,403.10 C104.60,405.10 108.38,406.90 112.20,408.80 C116.02,410.70 119.88,412.60 123.70,414.50 C127.52,416.40 131.30,418.30 135.10,420.20 C138.90,422.10 142.70,423.90 146.50,425.90 C150.30,427.90 153.98,429.88 157.90,432.20 C161.82,434.52 165.73,437.25 170.00,439.80 C174.27,442.35 179.15,444.78 183.50,447.50 C187.85,450.22 192.48,453.58 196.10,456.10 C199.72,458.62 202.17,460.43 205.20,462.60 C208.23,464.77 211.25,466.82 214.30,469.10 C217.35,471.38 220.67,474.02 223.50,476.30 C226.33,478.58 228.52,480.52 231.30,482.80 C234.08,485.08 237.15,487.47 240.20,490.00 C243.25,492.53 247.17,495.58 249.60,498.00 C252.03,500.42 252.85,502.00 254.80,504.50 C256.75,507.00 258.92,510.17 261.30,513.00 C263.68,515.83 266.38,518.88 269.10,521.50 C271.82,524.12 274.77,526.53 277.60,528.70 C280.43,530.87 283.17,532.65 286.10,534.50 C289.03,536.35 291.95,538.17 295.20,539.80 C298.45,541.43 301.90,543.00 305.60,544.30 C309.30,545.60 312.43,546.67 317.40,547.60 C322.37,548.53 329.97,549.32 335.40,549.90 C340.83,550.48 345.47,550.78 350.00,551.10 C354.53,551.42 360.50,551.68 362.60,551.80" fill="none" stroke-width="1.4" stroke-dasharray="5.3 5.5" stroke-linejoin="round" />
<path d="M76.30,350.40 C76.62,352.87 77.40,360.45 78.20,365.20 C79.00,369.95 80.00,374.30 81.10,378.90 C82.20,383.50 83.57,388.83 84.80,392.80 C86.03,396.77 87.17,399.47 88.50,402.70 C89.83,405.93 90.37,408.92 92.80,412.20 C95.23,415.48 100.23,419.92 103.10,422.40 C105.97,424.88 107.55,425.87 110.00,427.10 C112.45,428.33 115.15,428.85 117.80,429.80 C120.45,430.75 122.95,432.00 125.90,432.80 C128.85,433.60 132.10,433.47 135.50,434.60 C138.90,435.73 142.78,437.88 146.30,439.60 C149.82,441.32 152.65,442.92 156.60,444.90 C160.55,446.88 165.82,449.53 170.00,451.50 C174.18,453.47 177.35,454.53 181.70,456.70 C186.05,458.87 190.98,461.78 196.10,464.50 C201.22,467.22 206.75,469.67 212.40,473.00 C218.05,476.33 223.90,480.37 230.00,484.50 C236.10,488.63 241.83,492.83 249.00,497.80 C256.17,502.77 265.08,509.02 273.00,514.30 C280.92,519.58 290.63,525.85 296.50,529.50 C302.37,533.15 304.28,534.27 308.20,536.20 C312.12,538.13 316.03,539.70 320.00,541.10 C323.97,542.50 327.88,543.67 332.00,544.60 C336.12,545.53 340.93,546.20 344.70,546.70 C348.47,547.20 351.28,547.35 354.60,547.60 C357.92,547.85 362.93,548.10 364.60,548.20" fill="none" stroke-width="1.4" stroke-linejoin="round" />
<path d="M73.20,347.30 L79.40,353.50 M73.20,353.50 L79.40,347.30" stroke-width="1.2" fill="none"/>
<path d="M85.40,399.60 L91.60,405.80 M85.40,405.80 L91.60,399.60" stroke-width="1.2" fill="none"/>
<path d="M100.00,419.30 L106.20,425.50 M100.00,425.50 L106.20,419.30" stroke-width="1.2" fill="none"/>
<path d="M114.70,426.70 L120.90,432.90 M114.70,432.90 L120.90,426.70" stroke-width="1.2" fill="none"/>
<path d="M132.40,431.50 L138.60,437.70 M132.40,437.70 L138.60,431.50" stroke-width="1.2" fill="none"/>
<path d="M153.50,441.80 L159.70,448.00 M153.50,448.00 L159.70,441.80" stroke-width="1.2" fill="none"/>
<path d="M178.60,453.60 L184.80,459.80 M178.60,459.80 L184.80,453.60" stroke-width="1.2" fill="none"/>
<path d="M209.30,469.90 L215.50,476.10 M209.30,476.10 L215.50,469.90" stroke-width="1.2" fill="none"/>
<path d="M245.90,494.70 L252.10,500.90 M245.90,500.90 L252.10,494.70" stroke-width="1.2" fill="none"/>
<path d="M293.40,526.40 L299.60,532.60 M293.40,532.60 L299.60,526.40" stroke-width="1.2" fill="none"/>
<path d="M351.50,544.40 L357.70,550.60 M351.50,550.60 L357.70,544.40" stroke-width="1.2" fill="none"/>
<path d="M484.30,556.50 L484.30,354.20" fill="none" stroke-width="1.4" stroke-dasharray="5.3 5.5" stroke-linejoin="round" />
<path d="M484.30,354.40 C484.67,354.27 485.75,353.53 486.50,353.60 C487.25,353.67 488.12,353.97 488.80,354.80 C489.48,355.63 489.77,356.93 490.60,358.60 C491.43,360.27 492.70,362.93 493.80,364.80 C494.90,366.67 496.00,368.17 497.20,369.80 C498.40,371.43 499.70,373.43 501.00,374.60 C502.30,375.77 503.50,376.15 505.00,376.80 C506.50,377.45 507.00,377.80 510.00,378.50 C513.00,379.20 518.80,379.97 523.00,381.00 C527.20,382.03 531.48,383.42 535.20,384.70 C538.92,385.98 541.93,387.35 545.30,388.70 C548.67,390.05 552.03,391.45 555.40,392.80 C558.77,394.15 562.30,395.38 565.50,396.80 C568.70,398.22 571.40,399.53 574.60,401.30 C577.80,403.07 581.67,405.37 584.70,407.40 C587.73,409.43 590.07,411.17 592.80,413.50 C595.53,415.83 598.40,418.95 601.10,421.40 C603.80,423.85 606.38,425.77 609.00,428.20 C611.62,430.63 614.28,433.38 616.80,436.00 C619.32,438.62 621.73,441.20 624.10,443.90 C626.47,446.60 628.63,449.35 631.00,452.20 C633.37,455.05 636.18,458.45 638.30,461.00 C640.42,463.55 641.37,464.83 643.70,467.50 C646.03,470.17 649.58,474.00 652.30,477.00 C655.02,480.00 657.55,482.70 660.00,485.50 C662.45,488.30 664.70,490.95 667.00,493.80 C669.30,496.65 671.52,499.83 673.80,502.60 C676.08,505.37 678.25,507.78 680.70,510.40 C683.15,513.02 685.90,515.85 688.50,518.30 C691.10,520.75 693.53,522.98 696.30,525.10 C699.07,527.22 702.03,529.05 705.10,531.00 C708.17,532.95 711.47,535.02 714.70,536.80 C717.93,538.58 721.25,540.22 724.50,541.70 C727.75,543.18 730.67,544.60 734.20,545.70 C737.73,546.80 742.02,547.57 745.70,548.30 C749.38,549.03 752.32,549.62 756.30,550.10 C760.28,550.58 767.38,551.02 769.60,551.20" fill="none" stroke-width="1.4" stroke-dasharray="5.3 5.5" stroke-linejoin="round" />
<path d="M485.00,430.00 C485.18,429.47 485.60,428.80 486.10,426.80 C486.60,424.80 487.32,420.22 488.00,418.00 C488.68,415.78 489.28,414.67 490.20,413.50 C491.12,412.33 492.27,411.63 493.50,411.00 C494.73,410.37 496.12,410.05 497.60,409.70 C499.08,409.35 500.23,409.18 502.40,408.90 C504.57,408.62 508.67,408.18 510.60,408.00 C512.53,407.82 512.10,407.77 514.00,407.80 C515.90,407.83 519.02,407.92 522.00,408.20 C524.98,408.48 527.27,408.67 531.90,409.50 C536.53,410.33 544.70,411.70 549.80,413.20 C554.90,414.70 559.50,417.28 562.50,418.50 C565.50,419.72 565.43,419.50 567.80,420.50 C570.17,421.50 572.93,422.40 576.70,424.50 C580.47,426.60 586.40,430.60 590.40,433.10 C594.40,435.60 597.37,437.47 600.70,439.50 C604.03,441.53 607.32,443.35 610.40,445.30 C613.48,447.25 616.25,449.23 619.20,451.20 C622.15,453.17 625.15,454.82 628.10,457.10 C631.05,459.38 634.30,462.50 636.90,464.90 C639.50,467.30 641.13,469.23 643.70,471.50 C646.27,473.77 648.75,475.60 652.30,478.50 C655.85,481.40 660.77,485.17 665.00,488.90 C669.23,492.63 673.62,497.12 677.70,500.90 C681.78,504.68 685.42,508.02 689.50,511.60 C693.58,515.18 698.78,519.75 702.20,522.40 C705.62,525.05 707.17,525.83 710.00,527.50 C712.83,529.17 715.75,530.77 719.20,532.40 C722.65,534.03 727.02,535.83 730.70,537.30 C734.38,538.77 737.77,540.17 741.30,541.20 C744.83,542.23 748.12,542.68 751.90,543.50 C755.68,544.32 759.90,545.38 764.00,546.10 C768.10,546.82 774.42,547.52 776.50,547.80" fill="none" stroke-width="1.4" stroke-dasharray="5.3 5.5" stroke-linejoin="round" />
<path d="M489.30,348.20 C489.47,348.83 489.88,350.32 490.30,352.00 C490.72,353.68 491.02,356.17 491.80,358.30 C492.58,360.43 493.92,362.95 495.00,364.80 C496.08,366.65 497.25,367.85 498.30,369.40 C499.35,370.95 499.68,372.75 501.30,374.10 C502.92,375.45 505.63,376.45 508.00,377.50 C510.37,378.55 513.00,379.32 515.50,380.40 C518.00,381.48 520.48,382.75 523.00,384.00 C525.52,385.25 528.07,386.35 530.60,387.90 C533.13,389.45 535.20,391.73 538.20,393.30 C541.20,394.87 545.23,396.22 548.60,397.30 C551.97,398.38 555.92,398.95 558.40,399.80 C560.88,400.65 561.68,401.12 563.50,402.40 C565.32,403.68 567.12,405.48 569.30,407.50 C571.48,409.52 573.87,412.32 576.60,414.50 C579.33,416.68 582.67,418.73 585.70,420.60 C588.73,422.47 591.65,423.22 594.80,425.70 C597.95,428.18 601.33,432.55 604.60,435.50 C607.87,438.45 610.90,440.72 614.40,443.40 C617.90,446.08 620.50,447.33 625.60,451.60 C630.70,455.87 638.85,463.62 645.00,469.00 C651.15,474.38 657.05,478.62 662.50,483.90 C667.95,489.18 673.20,496.12 677.70,500.70 C682.20,505.28 685.42,507.82 689.50,511.40 C693.58,514.98 698.82,519.40 702.20,522.20 C705.58,525.00 707.87,526.65 709.80,528.20 C711.73,529.75 711.65,530.22 713.80,531.50 C715.95,532.78 719.75,534.50 722.70,535.90 C725.65,537.30 728.55,538.68 731.50,539.90 C734.45,541.12 737.45,542.23 740.40,543.20 C743.35,544.17 746.25,545.00 749.20,545.70 C752.15,546.40 755.07,546.87 758.10,547.40 C761.13,547.93 764.33,548.60 767.40,548.90 C770.47,549.20 774.98,549.15 776.50,549.20" fill="none" stroke-width="1.4" stroke-linejoin="round" />
<path d="M490.10,437.50 C490.25,436.53 490.30,434.30 491.00,431.70 C491.70,429.10 492.93,424.43 494.30,421.90 C495.67,419.37 497.80,417.57 499.20,416.50 C500.60,415.43 501.07,416.42 502.70,415.50 C504.33,414.58 506.73,411.95 509.00,411.00 C511.27,410.05 513.80,410.00 516.30,409.80 C518.80,409.60 521.35,409.67 524.00,409.80 C526.65,409.93 529.50,410.27 532.20,410.60 C534.90,410.93 537.32,411.23 540.20,411.80 C543.08,412.37 546.13,413.00 549.50,414.00 C552.87,415.00 556.75,416.47 560.40,417.80 C564.05,419.13 568.02,420.53 571.40,422.00 C574.78,423.47 576.37,424.60 580.70,426.60 C585.03,428.60 592.60,431.70 597.40,434.00 C602.20,436.30 605.87,438.18 609.50,440.40 C613.13,442.62 616.10,444.78 619.20,447.30 C622.30,449.82 623.80,452.22 628.10,455.50 C632.40,458.78 638.47,462.30 645.00,467.00 C651.53,471.70 660.63,478.60 667.30,483.70 C673.97,488.80 679.55,493.30 685.00,497.60 C690.45,501.90 695.28,505.47 700.00,509.50 C704.72,513.53 709.52,518.58 713.30,521.80 C717.08,525.02 718.92,526.37 722.70,528.80 C726.48,531.23 731.58,534.18 736.00,536.40 C740.42,538.62 745.22,540.55 749.20,542.10 C753.18,543.65 756.50,544.68 759.90,545.70 C763.30,546.72 767.32,547.55 769.60,548.20 C771.88,548.85 772.93,549.37 773.60,549.60" fill="none" stroke-width="1.4" stroke-linejoin="round" />
<path d="M486.60,435.20 L493.60,435.20 L490.10,441.00 Z" fill="#fff" stroke-width="1.25" stroke-linejoin="miter"/>
<path d="M499.20,413.20 L506.20,413.20 L502.70,419.00 Z" fill="#fff" stroke-width="1.25" stroke-linejoin="miter"/>
<path d="M512.80,407.50 L519.80,407.50 L516.30,413.30 Z" fill="#fff" stroke-width="1.25" stroke-linejoin="miter"/>
<path d="M528.70,408.30 L535.70,408.30 L532.20,414.10 Z" fill="#fff" stroke-width="1.25" stroke-linejoin="miter"/>
<path d="M546.00,411.70 L553.00,411.70 L549.50,417.50 Z" fill="#fff" stroke-width="1.25" stroke-linejoin="miter"/>
<path d="M567.90,419.70 L574.90,419.70 L571.40,425.50 Z" fill="#fff" stroke-width="1.25" stroke-linejoin="miter"/>
<path d="M593.90,431.70 L600.90,431.70 L597.40,437.50 Z" fill="#fff" stroke-width="1.25" stroke-linejoin="miter"/>
<path d="M624.60,453.20 L631.60,453.20 L628.10,459.00 Z" fill="#fff" stroke-width="1.25" stroke-linejoin="miter"/>
<path d="M663.80,481.40 L670.80,481.40 L667.30,487.20 Z" fill="#fff" stroke-width="1.25" stroke-linejoin="miter"/>
<path d="M709.80,519.50 L716.80,519.50 L713.30,525.30 Z" fill="#fff" stroke-width="1.25" stroke-linejoin="miter"/>
<path d="M770.10,547.30 L777.10,547.30 L773.60,553.10 Z" fill="#fff" stroke-width="1.25" stroke-linejoin="miter"/>
<circle cx="489.30" cy="348.20" r="3.1" fill="#fff" stroke-width="1.25"/>
<circle cx="501.30" cy="374.10" r="3.1" fill="#fff" stroke-width="1.25"/>
<circle cx="515.50" cy="380.40" r="3.1" fill="#fff" stroke-width="1.25"/>
<circle cx="530.60" cy="387.90" r="3.1" fill="#fff" stroke-width="1.25"/>
<circle cx="548.60" cy="397.30" r="3.1" fill="#fff" stroke-width="1.25"/>
<circle cx="569.30" cy="407.50" r="3.1" fill="#fff" stroke-width="1.25"/>
<circle cx="594.80" cy="425.70" r="3.1" fill="#fff" stroke-width="1.25"/>
<circle cx="625.60" cy="451.60" r="3.1" fill="#fff" stroke-width="1.25"/>
<circle cx="662.50" cy="483.90" r="3.1" fill="#fff" stroke-width="1.25"/>
<circle cx="709.80" cy="528.20" r="3.1" fill="#fff" stroke-width="1.25"/>
<circle cx="767.40" cy="548.90" r="3.1" fill="#fff" stroke-width="1.25"/>
</svg>
</body></html>
